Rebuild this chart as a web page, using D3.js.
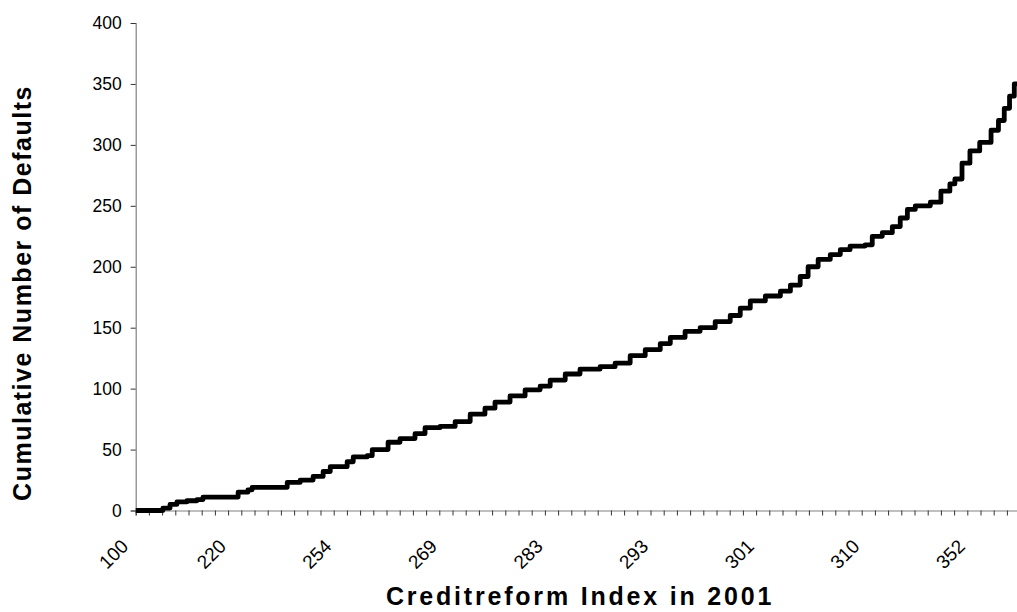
<!DOCTYPE html>
<html>
<head>
<meta charset="utf-8">
<script src="https://cdn.jsdelivr.net/npm/d3@7"></script>
<style>
  html, body { margin: 0; padding: 0; background: #fff; }
  svg { display: block; }
</style>
</head>
<body>
<svg id="chart" width="1017" height="612"></svg>
<script>
// ---- data ----
// firm rank along the sorted Creditreform index (x) and cumulative defaults (y)
const firmRank = [0, 103, 130, 156, 194, 232, 255, 369, 388, 425, 441, 547, 574, 623, 672, 710, 737, 801, 824, 877, 896, 937, 956, 1001, 1058, 1096, 1153, 1210, 1267, 1323, 1361, 1418, 1475, 1532, 1570, 1627, 1683, 1759, 1816, 1873, 1930, 1987, 2025, 2081, 2138, 2195, 2252, 2290, 2328, 2385, 2442, 2480, 2517, 2547, 2585, 2631, 2669, 2706, 2763, 2790, 2828, 2866, 2896, 2923, 2953, 3010, 3050, 3084, 3103, 3130, 3160, 3197, 3240, 3268, 3290, 3310, 3328, 3350];
const cumDefaults = [0, 2, 5, 7, 8, 9, 11, 11, 15, 17, 19, 19, 23, 25, 28, 32, 36, 40, 44, 45, 50, 50, 56, 59, 63, 68, 69, 73, 79, 84, 89, 94, 99, 102, 107, 112, 116, 118, 121, 127, 132, 137, 142, 147, 150, 155, 160, 166, 172, 176, 180, 185, 192, 200, 206, 210, 214, 217, 218, 225, 228, 233, 240, 247, 250, 253, 262, 268, 272, 285, 295, 302, 312, 320, 330, 340, 350, 352];
// category tick labels and the firm rank where each is shown
const tickLabels = ["100", "220", "254", "269", "283", "293", "301", "310", "352"];
const tickLabelRank = [-20, 350, 750, 1150, 1550, 1950, 2350, 2750, 3150];
const yTicks = [0, 50, 100, 150, 200, 250, 300, 350, 400];
const xTickStep = 50, xMax = 3350;

// ---- layout ----
const svg = d3.select("#chart");
const x0 = 135.7, x1 = 135.7 + 67 * 13.2;
const yBottom = 510.5, yTop = 23;

const x = d3.scaleLinear().domain([0, xMax]).range([x0, x1]);
const y = d3.scaleLinear().domain([0, 400]).range([yBottom, yTop]);

const font = "'Liberation Sans', Arial, sans-serif";

// y axis
const yAxis = d3.axisLeft(y).tickValues(yTicks).tickSize(5).tickPadding(9);
const gy = svg.append("g").attr("transform", `translate(${x0},0)`).call(yAxis);
gy.select(".domain").attr("stroke", "#808080").attr("stroke-width", 1.2);
gy.selectAll(".tick line").attr("stroke", "#333");
gy.selectAll(".tick text").attr("font-family", font).attr("font-size", 17.5).attr("fill", "#000");

// x axis (minor ticks every 50 firms)
const xTickVals = d3.range(0, xMax + 1, xTickStep);
const xAxis = d3.axisBottom(x).tickValues(xTickVals).tickSize(5).tickFormat("");
const gx = svg.append("g").attr("transform", `translate(0,${yBottom})`).call(xAxis);
gx.select(".domain").attr("stroke", "#808080").attr("stroke-width", 1.2);
gx.selectAll(".tick line").attr("stroke", "#333");

// rotated category labels
svg.append("g").selectAll("text")
  .data(tickLabels)
  .join("text")
  .attr("transform", (d, i) => `translate(${x(tickLabelRank[i]) - 1},${yBottom + 37}) rotate(-45)`)
  .attr("text-anchor", "end")
  .attr("font-family", font)
  .attr("font-size", 19)
  .attr("fill", "#000")
  .text(d => d);

// cumulative default line
const line = d3.line()
  .x((d, i) => x(firmRank[i]))
  .y(d => y(d))
  .curve(d3.curveStepAfter);

svg.append("path")
  .datum(cumDefaults)
  .attr("d", line)
  .attr("fill", "none")
  .attr("stroke", "#000")
  .attr("stroke-width", 4.8)
  .attr("stroke-linejoin", "round");

// titles
svg.append("text")
  .attr("x", 580).attr("y", 605)
  .attr("text-anchor", "middle")
  .attr("font-family", font).attr("font-weight", "bold")
  .attr("font-size", 25).attr("letter-spacing", 2.8)
  .text("Creditreform Index in 2001");

svg.append("text")
  .attr("transform", "translate(31,293) rotate(-90)")
  .attr("text-anchor", "middle")
  .attr("font-family", font).attr("font-weight", "bold")
  .attr("font-size", 25).attr("letter-spacing", 1.5)
  .text("Cumulative Number of Defaults");
</script>
</body>
</html>
